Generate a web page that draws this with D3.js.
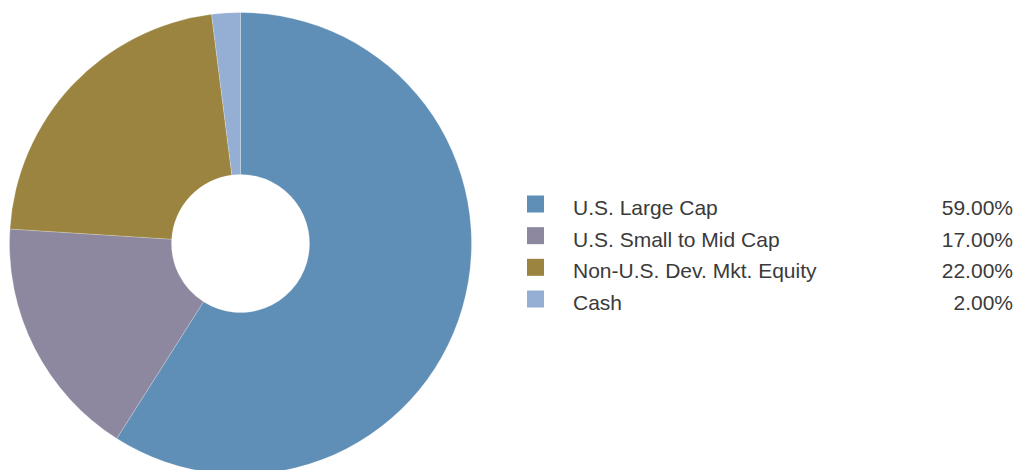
<!DOCTYPE html>
<html>
<head>
<meta charset="utf-8">
<script src="https://cdn.jsdelivr.net/npm/d3@7"></script>
<style>
  html, body { margin: 0; padding: 0; background: #fff; }
  svg { display: block; }
</style>
</head>
<body>
<svg id="chart" width="1016" height="470"></svg>
<script>
// Asset allocation
const categories = ["U.S. Large Cap", "U.S. Small to Mid Cap", "Non-U.S. Dev. Mkt. Equity", "Cash"];
const shares = [59, 17, 22, 2];
const colors = ["#5f8fb6", "#8d88a0", "#9a843f", "#95aed3"];

const svg = d3.select("#chart");
const cx = 240.5, cy = 243.5, outerR = 231, innerR = 69;

const pie = d3.pie().sort(null).value(d => d.value);
const arc = d3.arc().innerRadius(innerR).outerRadius(outerR);
const data = categories.map((c, i) => ({ name: c, value: shares[i], color: colors[i] }));

svg.append("g")
  .attr("transform", `translate(${cx},${cy})`)
  .selectAll("path")
  .data(pie(data))
  .join("path")
  .attr("d", arc)
  .attr("fill", d => d.data.color)
  .attr("stroke", "rgba(255,255,255,0.35)")
  .attr("stroke-width", 0.6);

// Legend: rows positioned on text baselines
const rowY = d3.scalePoint().domain(categories).range([215, 310]);
const fmt = d => d3.format(".2f")(d) + "%";
const legend = svg.append("g")
  .style("font-family", "'Liberation Sans', Arial, sans-serif")
  .style("font-size", "21px")
  .attr("fill", "#3a3a3a");

const rows = legend.selectAll("g").data(data).join("g")
  .attr("transform", d => `translate(0,${rowY(d.name)})`);

rows.append("rect")
  .attr("x", 527).attr("y", -19.5)
  .attr("width", 17).attr("height", 17)
  .attr("fill", d => d.color);

rows.append("text")
  .attr("x", 573)
  .text(d => d.name);

rows.append("text")
  .attr("x", 1013)
  .attr("text-anchor", "end")
  .text(d => fmt(d.value));
</script>
</body>
</html>
